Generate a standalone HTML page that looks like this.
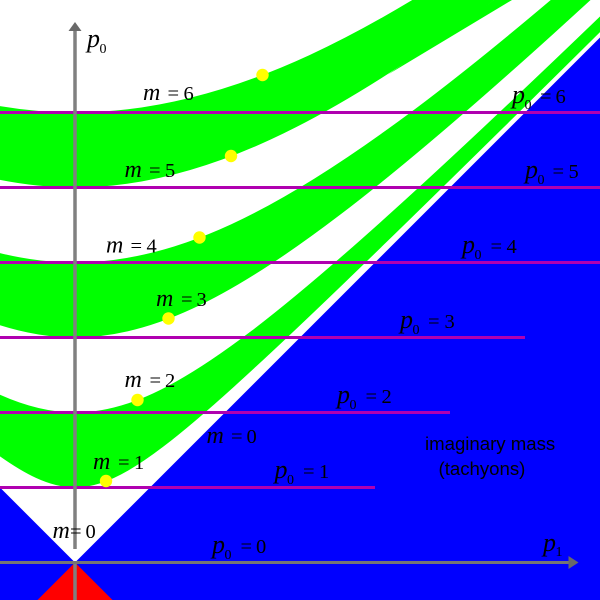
<!DOCTYPE html>
<html>
<head>
<meta charset="utf-8">
<style>
html,body{margin:0;padding:0;background:#fff;width:600px;height:600px;overflow:hidden}
svg{display:block}
.m{font:italic 24px "Liberation Serif",serif;fill:#000}
.p{font:italic 26px "Liberation Serif",serif;fill:#000}
.s{font:14px "Liberation Serif",serif;fill:#000}
.d{font:20.500px "Liberation Serif",serif;fill:#000}
.t{font:18.600px "Liberation Sans",sans-serif;fill:#000}
</style>
</head>
<body>
<svg width="600" height="600" viewBox="0 0 600 600" xmlns="http://www.w3.org/2000/svg">
<defs>
<path id="h" d="M-10.018-10.068Q-7.5523-7.6142-6.0502-6.1323Q-4.5484-4.6507-3.6269-3.7622Q-2.7055-2.874-2.1293-2.3524Q-1.5531-1.8309-1.1752-1.5431Q-.7973-1.2553-.5211-1.1276Q-.2449-1 0-1Q.2449-1 .5211-1.1276Q.7973-1.2553 1.1752-1.5431Q1.5531-1.8309 2.1293-2.3524Q2.7055-2.874 3.6269-3.7622Q4.5484-4.6507 6.0502-6.1323Q7.5523-7.6142 10.018-10.068Z"/>
</defs>
<rect width="600" height="600" fill="#fff"/>
<!-- blue regions -->
<polygon points="0,487.5 75,562.5 0,562.5" fill="#0000ff"/>
<polygon points="600,37.5 75,562.5 600,562.5" fill="#0000ff"/>
<rect x="0" y="562" width="600" height="38" fill="#0000ff"/>
<polygon points="75,562.5 112.5,600 37.5,600" fill="#ff0000"/>
<!-- hyperbola bands -->
<g transform="translate(75 562.5)">
<use href="#h" transform="scale(75)" fill="#00ff00"/>
<use href="#h" transform="scale(150)" fill="#fff"/>
<use href="#h" transform="scale(225)" fill="#00ff00"/>
<use href="#h" transform="scale(300)" fill="#fff"/>
<use href="#h" transform="scale(375)" fill="#00ff00"/>
</g>
<polygon points="388,74.5 512,0 494,0" fill="#00ff00"/>
<g transform="translate(75 562.5)">
<use href="#h" transform="scale(450)" fill="#fff"/>
</g>
<!-- purple lines -->
<g stroke="#b000b0" stroke-width="3" fill="none">
<line x1="0" y1="112.5" x2="600" y2="112.5"/>
<line x1="0" y1="187.5" x2="600" y2="187.5"/>
<line x1="0" y1="262.5" x2="600" y2="262.5"/>
<line x1="0" y1="337.5" x2="525" y2="337.5"/>
<line x1="0" y1="412.5" x2="450" y2="412.5"/>
<line x1="0" y1="487.5" x2="375" y2="487.5"/>
</g>
<!-- axes -->
<g stroke="#808080" stroke-width="3.500" fill="none">
<line x1="75" y1="30" x2="75" y2="549"/>
<line x1="75" y1="562" x2="75" y2="600"/>
</g>
<line x1="0" y1="562.5" x2="570" y2="562.5" stroke="#757575" stroke-width="3"/>
<polygon points="75,22 81.500,31 68.500,31" fill="#696969"/>
<polygon points="578.500,562.500 568.500,556 568.500,569" fill="#696969"/>
<!-- dots -->
<g fill="#ffff00">
<circle cx="262.5" cy="75" r="6.2"/>
<circle cx="231" cy="156" r="6.2"/>
<circle cx="199.5" cy="237.5" r="6.2"/>
<circle cx="168.5" cy="318.5" r="6.2"/>
<circle cx="137.5" cy="400" r="6.2"/>
<circle cx="106" cy="481" r="6.2"/>
</g>
<!-- m labels -->
<text class="m" x="143" y="100">m</text><text class="d" x="167.500" y="100">=</text><text class="d" x="183.500" y="100">6</text>
<text class="m" x="124.500" y="177">m</text><text class="d" x="149" y="177">=</text><text class="d" x="165" y="177">5</text>
<text class="m" x="106" y="252.500">m</text><text class="d" x="130.500" y="252.500">=</text><text class="d" x="146.500" y="252.500">4</text>
<text class="m" x="156" y="306">m</text><text class="d" x="181" y="306">=</text><text class="d" x="196.500" y="306">3</text>
<text class="m" x="124.500" y="387">m</text><text class="d" x="149.500" y="387">=</text><text class="d" x="165" y="387">2</text>
<text class="m" x="93" y="469">m</text><text class="d" x="118" y="469">=</text><text class="d" x="134" y="469">1</text>
<text class="m" x="52.500" y="538">m</text><text class="d" x="70" y="538">=</text><text class="d" x="85.500" y="538">0</text>
<text class="m" x="206.500" y="443">m</text><text class="d" x="231" y="443">=</text><text class="d" x="246.500" y="443">0</text>
<!-- p labels -->
<text class="p" x="87" y="47">p</text><text class="s" x="99.500" y="53">0</text>
<text class="p" x="512" y="103">p</text><text class="s" x="524.500" y="109">0</text><text class="d" x="540" y="103">=</text><text class="d" x="555.500" y="103">6</text>
<text class="p" x="525" y="178">p</text><text class="s" x="537.500" y="184">0</text><text class="d" x="552.500" y="178">=</text><text class="d" x="568.500" y="178">5</text>
<text class="p" x="462" y="253">p</text><text class="s" x="474.500" y="259">0</text><text class="d" x="490.500" y="253">=</text><text class="d" x="506.500" y="253">4</text>
<text class="p" x="400" y="328">p</text><text class="s" x="412.500" y="334">0</text><text class="d" x="428" y="328">=</text><text class="d" x="444.500" y="328">3</text>
<text class="p" x="337" y="403">p</text><text class="s" x="349.500" y="409">0</text><text class="d" x="365.500" y="403">=</text><text class="d" x="381.500" y="403">2</text>
<text class="p" x="274.500" y="478">p</text><text class="s" x="287" y="484">0</text><text class="d" x="303" y="478">=</text><text class="d" x="319" y="478">1</text>
<text class="p" x="212" y="553">p</text><text class="s" x="224.500" y="559">0</text><text class="d" x="240.500" y="553">=</text><text class="d" x="256" y="553">0</text>
<text class="p" x="543" y="551">p</text><text class="s" x="555.500" y="556">1</text>
<!-- text -->
<text class="t" x="425" y="450">imaginary mass</text>
<text class="t" x="438.500" y="475">(tachyons)</text>
</svg>
</body>
</html>
